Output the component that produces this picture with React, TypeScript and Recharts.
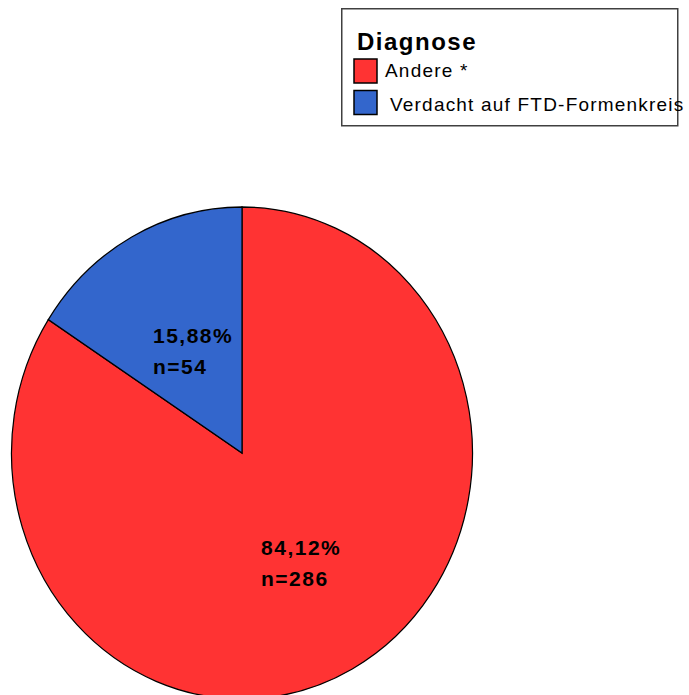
import { PieChart, Pie, Cell, Legend } from "recharts";

const categories = ["Andere *", "Verdacht auf FTD-Formenkreis"];
const counts = [286, 54];
const colors = ["#FF3333", "#3366CC"];
const legendTitle = "Diagnose";

const data = categories.map((name, i) => ({ name, value: counts[i] }));

const FONT = '"Liberation Sans", Arial, sans-serif';
const CX = 242;
const CY = 453;
const R = 246;
// SPSS drew the pie slightly squeezed horizontally
const SX = 0.937;
const RAD = Math.PI / 180;

const renderLabel = (props: any) => {
  const { cx, cy, midAngle, outerRadius, percent, value } = props;
  const r = outerRadius * 0.49;
  const x = cx + r * SX * Math.cos(-midAngle * RAD);
  const y = cy + r * Math.sin(-midAngle * RAD);
  const pct = (percent * 100).toFixed(2).replace(".", ",") + "%";
  const left = x - 35;
  return (
    <g>
      <text x={left} y={y - 4} fontFamily={FONT} fontSize={21} fontWeight="bold" letterSpacing={1.5} fill="#000">
        {pct}
      </text>
      <text x={left} y={y + 27} fontFamily={FONT} fontSize={21} fontWeight="bold" letterSpacing={1.5} fill="#000">
        {"n=" + value}
      </text>
    </g>
  );
};

const renderLegend = (props: any) => {
  const payload: any[] = props.payload && props.payload.length ? props.payload : [];
  const items = categories.map((name, i) => {
    const p = payload.find((e) => e.value === name);
    return { name, color: p ? p.color : colors[i] };
  });
  return (
    <svg width={337} height={119} style={{ overflow: "visible", display: "block" }}>
      <rect x={0.75} y={0.75} width={336} height={117} fill="#fff" stroke="#404040" strokeWidth={1.5} />
      <text x={16} y={42} fontFamily={FONT} fontSize={24} fontWeight="bold" letterSpacing={1.5} fill="#000">
        {legendTitle}
      </text>
      {items.map((it, i) => (
        <g key={it.name}>
          <rect x={13} y={51 + i * 31.5} width={23} height={24} fill={it.color} stroke="#000" strokeWidth={1.5} />
          <text x={i === 0 ? 44 : 49} y={69 + i * 34} fontFamily={FONT} fontSize={19} letterSpacing={1.2} fill="#000">
            {it.name}
          </text>
        </g>
      ))}
    </svg>
  );
};

export default function App() {
  return (
    <div style={{ position: "absolute", left: 0, top: 0, width: 689, height: 695, background: "#fff", overflow: "hidden" }}>
      <style>{`path.recharts-sector { transform-origin: ${CX}px ${CY}px; transform: scaleX(${SX}); }`}</style>
      <PieChart width={689} height={695} margin={{ top: 0, right: 0, bottom: 0, left: 0 }}>
        <Pie
          data={data}
          dataKey="value"
          nameKey="name"
          cx={CX}
          cy={CY}
          outerRadius={R}
          startAngle={90}
          endAngle={-270}
          stroke="#000"
          strokeWidth={1.3}
          label={renderLabel}
          labelLine={false}
          isAnimationActive={false}
        >
          {data.map((d, i) => (
            <Cell key={d.name} fill={colors[i]} />
          ))}
        </Pie>
        <Legend
          content={renderLegend}
          wrapperStyle={{ position: "absolute", left: 341, top: 8, width: 337, height: 119 }}
        />
      </PieChart>
    </div>
  );
}
